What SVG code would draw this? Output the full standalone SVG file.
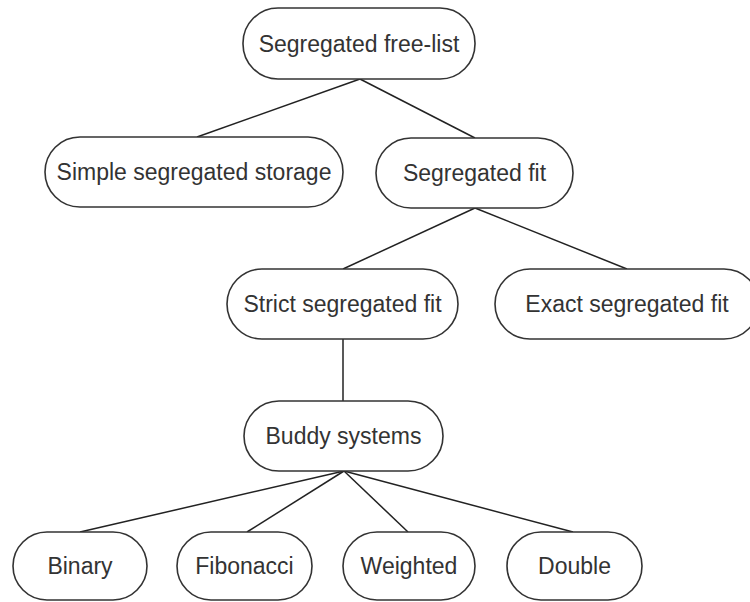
<svg xmlns="http://www.w3.org/2000/svg" width="750" height="602" viewBox="0 0 750 602">
<style>
.n rect{fill:#fff;stroke:#333;stroke-width:1.6}
.n text{font-family:"Liberation Sans",Arial,sans-serif;font-size:23px;fill:#333;text-anchor:middle}
#edges line{stroke:#222;stroke-width:1.5}
</style>
<rect width="750" height="602" fill="#fff"/>
<g id="edges">
<line x1="360" y1="79" x2="197" y2="137"/>
<line x1="360" y1="79" x2="475" y2="138"/>
<line x1="475" y1="208" x2="343" y2="269"/>
<line x1="475" y1="208" x2="627" y2="269"/>
<line x1="343" y1="339" x2="343" y2="401"/>
<line x1="344" y1="471" x2="80" y2="532"/>
<line x1="344" y1="471" x2="247" y2="532"/>
<line x1="344" y1="471" x2="408" y2="532"/>
<line x1="344" y1="471" x2="573" y2="532"/>
</g>
<g id="n1" class="n"><rect x="243" y="8" width="232" height="71" rx="35" ry="35"/><text x="359" y="51.5">Segregated free-list</text></g>
<g id="n2" class="n"><rect x="45" y="137" width="298" height="70" rx="35" ry="35"/><text x="194" y="180">Simple segregated storage</text></g>
<g id="n3" class="n"><rect x="376" y="138" width="197" height="70" rx="35" ry="35"/><text x="474.5" y="181">Segregated fit</text></g>
<g id="n4" class="n"><rect x="227" y="269" width="231" height="70" rx="35" ry="35"/><text x="342.5" y="312">Strict segregated fit</text></g>
<g id="n5" class="n"><rect x="495" y="269" width="264" height="70" rx="35" ry="35"/><text x="627" y="312">Exact segregated fit</text></g>
<g id="n6" class="n"><rect x="244" y="401" width="199" height="70" rx="35" ry="35"/><text x="343.5" y="444">Buddy systems</text></g>
<g id="n7" class="n"><rect x="13" y="532" width="134" height="68" rx="34" ry="34"/><text x="80" y="574">Binary</text></g>
<g id="n8" class="n"><rect x="177" y="532" width="135" height="68" rx="34" ry="34"/><text x="244.5" y="574">Fibonacci</text></g>
<g id="n9" class="n"><rect x="343" y="532" width="132" height="68" rx="34" ry="34"/><text x="409" y="574">Weighted</text></g>
<g id="n10" class="n"><rect x="507" y="532" width="135" height="68" rx="34" ry="34"/><text x="574.5" y="574">Double</text></g>
</svg>
